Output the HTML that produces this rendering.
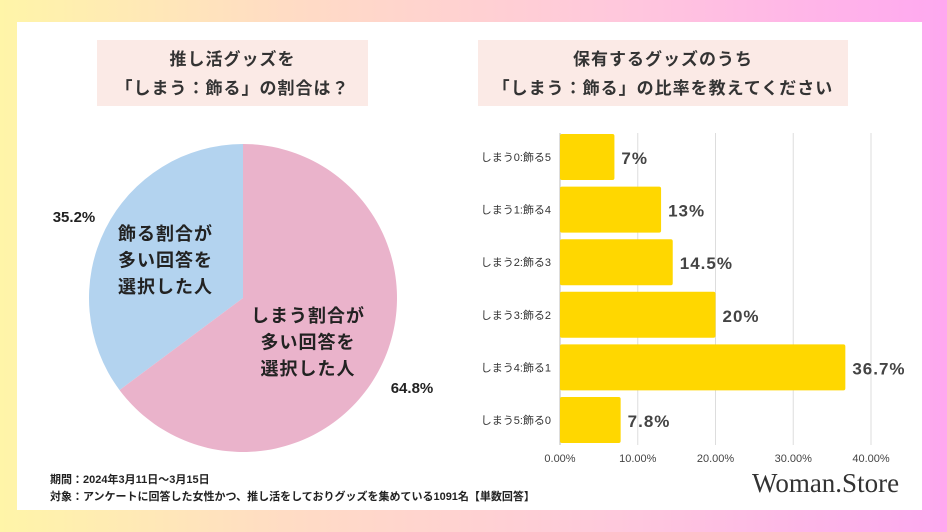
<!DOCTYPE html>
<html><head><meta charset="utf-8"><style>
body{margin:0;width:947px;height:532px;overflow:hidden;font-family:"Liberation Sans","Noto Sans CJK JP",sans-serif;}
#bg{position:absolute;left:0;top:0;width:947px;height:532px;background:linear-gradient(90deg,#fff5a8 0%,#ffdcc4 30%,#ffc8dc 65%,#ffa8f0 100%);}
#panel{position:absolute;left:17px;top:22px;width:905px;height:488px;background:#fff;}
.tbox{position:absolute;background:#fbeae6;color:#333;font-weight:bold;font-size:17px;text-align:center;line-height:29px;padding-top:5px;box-sizing:border-box;letter-spacing:1px;}
.foot{position:absolute;left:50px;font-size:11px;font-weight:bold;color:#222;}
</style></head><body>
<div id="bg"></div>
<div id="panel"></div>
<div class="tbox" style="left:97px;top:40px;width:271px;height:66px;">推し活グッズを<br>「しまう：飾る」の割合は？</div>
<div class="tbox" style="left:478px;top:40px;width:370px;height:66px;">保有するグッズのうち<br>「しまう：飾る」の比率を教えてください</div>
<svg id="chart" width="947" height="532" style="position:absolute;left:0;top:0"></svg>
<div class="foot" style="top:471px">期間：2024年3月11日〜3月15日</div>
<div class="foot" style="top:488px">対象：アンケートに回答した女性かつ、推し活をしておりグッズを集めている1091名【単数回答】</div>
<div style="position:absolute;left:752px;top:468px;font-family:'Liberation Serif',serif;font-size:27px;color:#333;">Woman.Store</div>
<script>
const pieLabels=["飾る割合が多い回答を選択した人","しまう割合が多い回答を選択した人"];
const pieValues=[35.2,64.8];
const barCategories=["しまう0:飾る5","しまう1:飾る4","しまう2:飾る3","しまう3:飾る2","しまう4:飾る1","しまう5:飾る0"];
const barValues=[7,13,14.5,20,36.7,7.8];
const barValueLabels=["7%","13%","14.5%","20%","36.7%","7.8%"];
const xTicks=[0,10,20,30,40];
const xTickLabels=["0.00%","10.00%","20.00%","30.00%","40.00%"];

const NS="http://www.w3.org/2000/svg";
const svg=document.getElementById('chart');
function mk(t,a,txt){const e=document.createElementNS(NS,t);for(const k in a)e.setAttribute(k,a[k]);if(txt!==undefined)e.textContent=txt;svg.appendChild(e);return e;}

const cx=243,cy=298,r=154;
const colors=["#b3d3ef","#eab3cb"];
let start=0;const total=pieValues.reduce((a,b)=>a+b,0);
pieValues.forEach((v,i)=>{
  const a0=start, a1=start+v/total*2*Math.PI; start=a1;
  const p=(a)=>[cx-r*Math.sin(a),cy-r*Math.cos(a)];
  const [x0,y0]=p(a0),[x1,y1]=p(a1);
  const large=(a1-a0)>Math.PI?1:0;
  const s=mk('path',{d:`M${cx},${cy}L${x0},${y0}A${r},${r} 0 ${large} 0 ${x1},${y1}Z`,fill:colors[i]});
  
  
});
const pctPos=[[74,222],[412,393]];
pieValues.forEach((v,i)=>{
  const t=mk('text',{x:pctPos[i][0],y:pctPos[i][1],'text-anchor':'middle','font-size':15,'font-weight':'bold',fill:'#222'},v.toFixed(1)+'%');
  
  
});
const inner=[[[118,240],["飾る割合が","多い回答を","選択した人"],'start'],[[308,322],["しまう割合が","多い回答を","選択した人"],'middle']];
inner.forEach(([pos,lines,anc])=>{
  lines.forEach((l,j)=>{
    const t=mk('text',{x:pos[0],y:pos[1]+j*26.5,'text-anchor':anc,'font-size':18,'font-weight':'bold',fill:'#222','letter-spacing':1});
    t.textContent=l;
    
    
  });
});

const x0=560,pxPer=(871-560)/40;
const xs=v=>x0+v*pxPer;
const top0=134,step=52.6,bh=46;
xTicks.forEach((t,i)=>{
  const g=mk('line',{x1:xs(t),x2:xs(t),y1:133,y2:445,stroke:i===0?'#bbb':'#ddd','stroke-width':1});
  
  
  const l=mk('text',{x:xs(t),y:462,'text-anchor':'middle','font-size':11,fill:'#444'},xTickLabels[i]);
  
  
});
barCategories.forEach((c,i)=>{
  const y=top0+i*step;
  const b=mk('rect',{x:x0,y:y,width:xs(barValues[i])-x0,height:bh,rx:2,fill:'#ffd700'});
  
  
  const l=mk('text',{x:551,y:y+bh/2+4,'text-anchor':'end','font-size':11,fill:'#333'},c);
  
  
  const v=mk('text',{x:xs(barValues[i])+7,y:y+bh/2+7,'font-size':17,'font-weight':'bold',fill:'#444','letter-spacing':1},barValueLabels[i]);
  
  
});
</script>
</body></html>
